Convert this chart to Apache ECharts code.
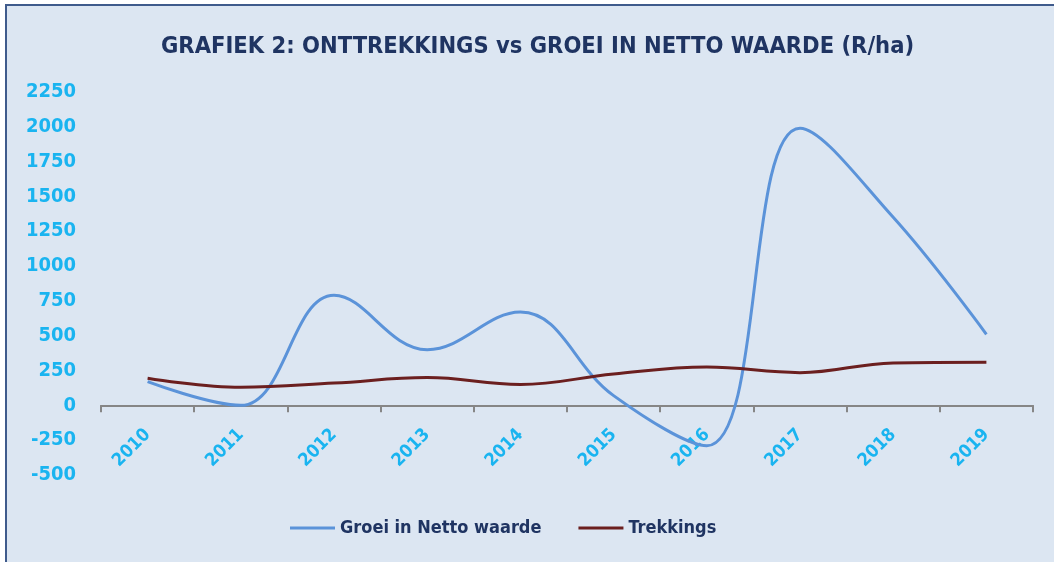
<!DOCTYPE html>
<html>
<head>
<meta charset="utf-8">
<script src="https://cdn.jsdelivr.net/npm/echarts@6/dist/echarts.min.js"></script>
<style>
  html, body { margin: 0; padding: 0; background: #ffffff; }
  #graph { width: 1054px; height: 562px; }
</style>
</head>
<body>
<div id="graph"></div>
<script>
var years = ['2010', '2011', '2012', '2013', '2014', '2015', '2016', '2017', '2018', '2019'];
var groei = [170, 0, 790, 400, 670, 70, -290, 1990, 1350, 510];
var trekkings = [195, 130, 160, 200, 150, 225, 275, 235, 305, 310];
var yTicks = { min: -500, max: 2250, step: 250 };

var labelFont = "'Liberation Sans Narrow', 'DejaVu Sans Condensed', 'Noto Sans', sans-serif";
var cyan = '#1ab4f0';
var navy = '#1f3462';

var myChart = echarts.init(document.getElementById('graph'));

// the year labels sit just under the zero line, so they get a grid of their own
// whose bottom edge is at the zero line of the main grid
var option = {
    backgroundColor: '#ffffff',
    animation: false,
    graphic: [{
        type: 'rect',
        z: -10,
        silent: true,
        shape: { x: 6, y: 5, width: 1060, height: 570 },
        style: { fill: '#dce6f2', stroke: '#3f5b8c', lineWidth: 2 }
    }],
    title: {
        text: 'GRAFIEK 2: ONTTREKKINGS vs GROEI IN NETTO WAARDE (R/ha)',
        left: 156,
        top: 30,
        textStyle: {
            color: navy,
            fontFamily: labelFont,
            fontWeight: 'bold',
            fontSize: 23.5
        }
    },
    legend: {
        bottom: 20,
        left: 285,
        icon: 'rect',
        itemWidth: 45,
        itemHeight: 3,
        itemGap: 37,
        textStyle: {
            color: navy,
            fontFamily: labelFont,
            fontWeight: 'bold',
            fontSize: 18
        },
        data: ['Groei in Netto waarde', 'Trekkings']
    },
    grid: [{
        left: 101,
        right: 21,
        top: 92,
        bottom: 87
    }, {
        left: 101,
        right: 21,
        top: 92,
        bottom: 156
    }],
    xAxis: [{
        type: 'category',
        data: years,
        boundaryGap: true,
        axisLine: { onZero: true, lineStyle: { color: '#868686', width: 2 } },
        axisTick: { show: true, length: 7, lineStyle: { color: '#868686', width: 2 } },
        axisLabel: { show: false },
        splitLine: { show: false }
    }, {
        type: 'category',
        gridIndex: 1,
        data: years,
        boundaryGap: true,
        axisLine: { show: false },
        axisTick: { show: false },
        axisLabel: {
            rotate: 45,
            margin: 26,
            color: cyan,
            fontFamily: labelFont,
            fontWeight: 'bold',
            fontSize: 18
        },
        splitLine: { show: false }
    }],
    yAxis: [{
        type: 'value',
        min: yTicks.min,
        max: yTicks.max,
        interval: yTicks.step,
        axisLine: { show: false },
        axisTick: { show: false },
        splitLine: { show: false },
        axisLabel: {
            margin: 25,
            color: cyan,
            fontFamily: labelFont,
            fontWeight: 'bold',
            fontSize: 20,
            formatter: function (v) { return String(v); }
        }
    }, {
        type: 'value',
        gridIndex: 1,
        min: 0,
        max: 1,
        show: false
    }],
    series: [{
        name: 'Groei in Netto waarde',
        type: 'line',
        data: groei,
        smooth: 0.4,
        symbol: 'none',
        lineStyle: { color: '#5b93d9', width: 3 },
        itemStyle: { color: '#5b93d9' }
    }, {
        name: 'Trekkings',
        type: 'line',
        data: trekkings,
        smooth: 0.4,
        symbol: 'none',
        lineStyle: { color: '#6b1f1f', width: 3 },
        itemStyle: { color: '#6b1f1f' }
    }]
};

myChart.setOption(option);
</script>
</body>
</html>
